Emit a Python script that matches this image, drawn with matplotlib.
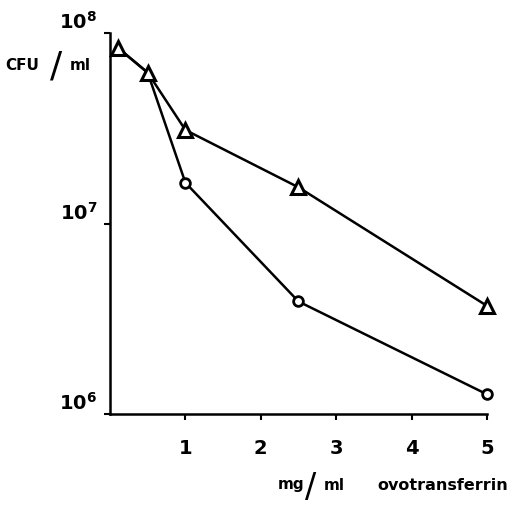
import matplotlib
matplotlib.use("Agg")
import matplotlib.pyplot as plt

# data
dose_tri = [0.1, 0.5, 1.0, 2.5, 5.0]
cfu_tri = [8.4e7, 6.2e7, 3.1e7, 1.55e7, 3.7e6]
dose_circ = [0.1, 0.5, 1.0, 2.5, 5.0]
cfu_circ = [8.4e7, 6.2e7, 1.64e7, 3.9e6, 1.27e6]
x_ticks = [1, 2, 3, 4, 5]
y_ticks = [1e6, 1e7, 1e8]
y_labels = [r'$\mathbf{10^{6}}$', r'$\mathbf{10^{7}}$', r'$\mathbf{10^{8}}$']

fig = plt.figure(figsize=(5.2, 5.05), dpi=100)
ax = fig.add_axes([0.2115, 0.180, 0.725, 0.7545])

# circles: shared start with triangles, markers only where they split
ax.plot(dose_circ, cfu_circ, color='black', lw=1.8, marker='o', ms=7,
        mfc='white', mec='black', mew=2, markevery=[2, 3, 4], clip_on=False,
        zorder=3)
ax.plot(dose_tri, cfu_tri, color='black', lw=1.8, marker='^', ms=10,
        mfc='white', mec='black', mew=2.2, clip_on=False, zorder=4)

ax.set_yscale('log')
ax.set_xlim(0, 5)
ax.set_ylim(1e6, 1e8)
ax.set_xticks(x_ticks)
ax.set_xticklabels([str(t) for t in x_ticks], fontsize=14, fontweight='bold')
ax.set_yticks(y_ticks)
ax.set_yticklabels(y_labels, fontsize=14)
ax.yaxis.set_minor_locator(matplotlib.ticker.NullLocator())
for lab in ax.get_yticklabels():
    lab.set_va('bottom')
ax.tick_params(axis='x', direction='out', length=4, width=1.5, pad=14)
ax.tick_params(axis='y', direction='out', length=4, width=1.5, pad=5)

for s in ['top', 'right']:
    ax.spines[s].set_visible(False)
for s in ['left', 'bottom']:
    ax.spines[s].set_linewidth(1.8)

# axis titles
fig.text(22 / 520, 1 - 66 / 505, 'CFU', fontsize=11, fontweight='bold',
         ha='center', va='center')
fig.text(56 / 520, 1 - 67 / 505, '/', fontsize=26, ha='center', va='center')
fig.text(80 / 520, 1 - 66 / 505, 'ml', fontsize=11, fontweight='bold',
         ha='center', va='center')

fig.text(291 / 520, 1 - 485 / 505, 'mg', fontsize=11, fontweight='bold',
         ha='center', va='center')
fig.text(311 / 520, 1 - 488 / 505, '/', fontsize=24, ha='center', va='center')
fig.text(334 / 520, 1 - 485 / 505, 'ml', fontsize=11, fontweight='bold',
         ha='center', va='center')
fig.text(443 / 520, 1 - 485 / 505, 'ovotransferrin', fontsize=11.5,
         fontweight='bold', ha='center', va='center')

plt.savefig('out.png', dpi=100)
